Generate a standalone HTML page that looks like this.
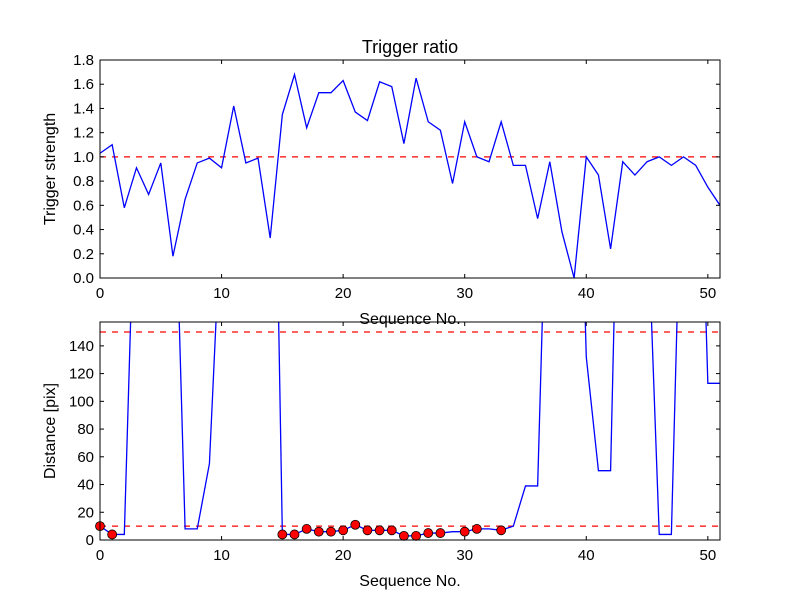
<!DOCTYPE html>
<html><head><meta charset="utf-8"><style>
body{margin:0;background:#fff}
svg{font-family:"Liberation Sans","DejaVu Sans",sans-serif}
</style></head><body>
<svg id="chart" width="800" height="600"></svg>
<script>
const seqTop = [0,1,2,3,4,5,6,7,8,9,10,11,12,13,14,15,16,17,18,19,20,21,22,23,24,25,26,27,28,29,30,31,32,33,34,35,36,37,38,39,40,41,42,43,44,45,46,47,48,49,50,51];
const strength = [1.03,1.10,0.58,0.91,0.69,0.95,0.18,0.65,0.95,0.99,0.91,1.42,0.95,0.99,0.33,1.35,1.68,1.24,1.53,1.53,1.63,1.37,1.30,1.62,1.58,1.11,1.65,1.29,1.22,0.78,1.29,1.00,0.96,1.29,0.93,0.93,0.49,0.96,0.38,0.0,1.0,0.85,0.24,0.96,0.85,0.96,1.0,0.93,1.0,0.93,0.75,0.6];
const distance = [10,4,4,300,300,300,318,8,8,55,244,300,300,300,510,4,4,8,6,6,7,11,7,7,7,3,3,5,5,6,6,8,8,7,10,39,39,350,300,445,132,50,50,432,300,247,4,4,336,407,113,113];
const markerIdx = [0,1,15,16,17,18,19,20,21,22,23,24,25,26,27,28,30,31,33];
const topTicksY = [0,0.2,0.4,0.6,0.8,1.0,1.2,1.4,1.6,1.8];
const botTicksY = [0,20,40,60,80,100,120,140];
const ticksX = [0,10,20,30,40,50];
const svg = document.getElementById('chart');
const NS='http://www.w3.org/2000/svg';
function mk(tag, attrs, parent){const e=document.createElementNS(NS,tag);for(const k in attrs)e.setAttribute(k,attrs[k]);(parent||svg).appendChild(e);return e;}
const L=100,R=720;
const xs=v=>L+(v/51)*(R-L);
function panel(top,bot,ymax){
  const ys=v=>bot-(v/ymax)*(bot-top);
  return {ys,top,bot};
}
const P1=panel(60,278,1.8), P2=panel(322,540,150*218/208);
function axes(P,yt,fmt,yname,xname,gname){
  const g=mk('g',{});
  
  
  ticksX.forEach(t=>{const x=xs(t);
    mk('line',{x1:x,x2:x,y1:P.bot,y2:P.bot-4,stroke:'#000'},g);
    mk('line',{x1:x,x2:x,y1:P.top,y2:P.top+4,stroke:'#000'},g);
    const tx=mk('text',{x:x,y:P.bot+20,'text-anchor':'middle','font-size':15},g);tx.textContent=t;
    
    
  });
  yt.forEach(t=>{const y=P.ys(t);
    mk('line',{x1:L,x2:L+4,y1:y,y2:y,stroke:'#000'},g);
    mk('line',{x1:R,x2:R-4,y1:y,y2:y,stroke:'#000'},g);
    const tx=mk('text',{x:L-6,y:y+5,'text-anchor':'end','font-size':15},g);tx.textContent=fmt(t);
    
    
  });
  const yl=mk('text',{x:0,y:0,'text-anchor':'middle','font-size':16,transform:`translate(${L-45},${(P.top+P.bot)/2}) rotate(-90)`},g);yl.textContent=yname;
  
  
  const xl=mk('text',{x:(L+R)/2,y:P.bot+46,'text-anchor':'middle','font-size':16},g);xl.textContent=xname;
  
  
}
const defs=mk('defs',{});
const c1=mk('clipPath',{id:'c1'},defs);mk('rect',{x:L,y:P1.top,width:R-L,height:P1.bot-P1.top},c1);
const c2=mk('clipPath',{id:'c2'},defs);mk('rect',{x:L,y:P2.top,width:R-L,height:P2.bot-P2.top},c2);
const title=mk('text',{x:(L+R)/2,y:53,'text-anchor':'middle','font-size':18});title.textContent='Trigger ratio';


const ref1=mk('line',{x1:L,x2:R,y1:P1.ys(1),y2:P1.ys(1),stroke:'#f00','stroke-width':1.3,'stroke-dasharray':'6,6','clip-path':'url(#c1)'});


const l1=mk('polyline',{points:strength.map((v,i)=>xs(seqTop[i])+','+P1.ys(v)).join(' '),fill:'none',stroke:'#00f','stroke-width':1.3,'clip-path':'url(#c1)'});


const f1=mk('rect',{x:L,y:P1.top,width:R-L,height:P1.bot-P1.top,fill:'none',stroke:'#000'});


axes(P1,topTicksY,t=>t.toFixed(1),'Trigger strength','Sequence No.','top-axes');
[150,10].forEach(v=>{const r=mk('line',{x1:L,x2:R,y1:P2.ys(v),y2:P2.ys(v),stroke:'#f00','stroke-width':1.3,'stroke-dasharray':'6,6','clip-path':'url(#c2)'});
  
  });
const l2=mk('polyline',{points:distance.map((v,i)=>xs(seqTop[i])+','+P2.ys(v)).join(' '),fill:'none',stroke:'#00f','stroke-width':1.3,'clip-path':'url(#c2)'});


markerIdx.forEach(i=>{const c=mk('circle',{cx:xs(seqTop[i]),cy:P2.ys(distance[i]),r:4.5,fill:'#f00',stroke:'#000','stroke-width':0.8});
  
  });
const f2=mk('rect',{x:L,y:P2.top,width:R-L,height:P2.bot-P2.top,fill:'none',stroke:'#000'});


axes(P2,botTicksY,t=>t,'Distance [pix]','Sequence No.','bottom-axes');
</script>
</body></html>
